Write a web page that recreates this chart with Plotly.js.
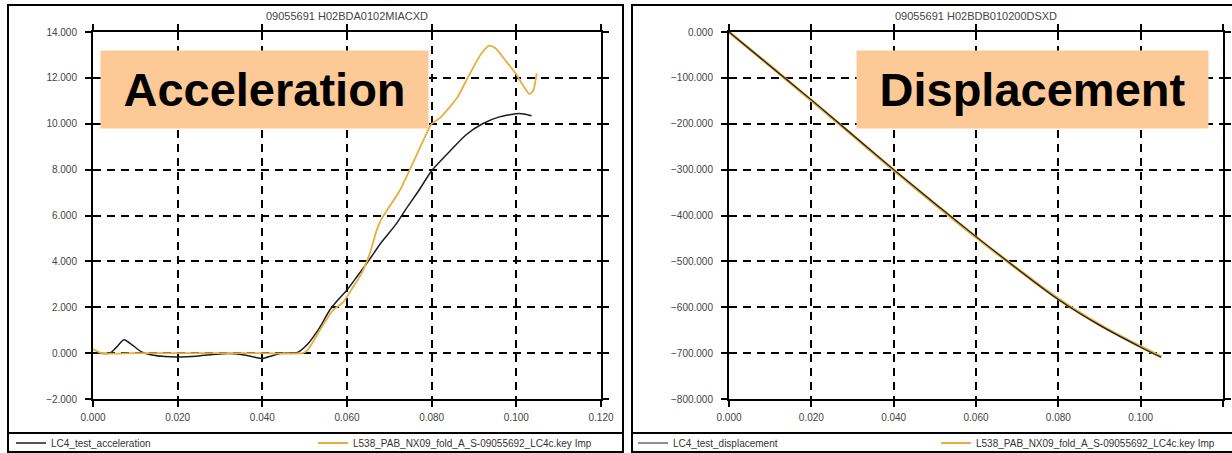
<!DOCTYPE html>
<html>
<head>
<meta charset="utf-8">
<script src="https://cdn.plot.ly/plotly-3.0.1.min.js"></script>
<style>html,body{margin:0;padding:0;background:#fff;}#chart{width:1232px;height:453px;}</style>
</head>
<body>
<div id="chart"></div>
<script>
// ---- data ----
const accTestTime = [0, 0.004, 0.0055, 0.0073, 0.0093, 0.0115, 0.014, 0.017, 0.020, 0.025, 0.029, 0.032, 0.035, 0.038, 0.040, 0.0425, 0.045, 0.0482, 0.0505, 0.0535, 0.056, 0.058, 0.060, 0.062, 0.065, 0.068, 0.0715, 0.074, 0.077, 0.080, 0.0843, 0.088, 0.092, 0.096, 0.1008, 0.1036];
const accTestVal  = [0, 0.0, 0.25, 0.58, 0.35, 0.05, -0.08, -0.15, -0.17, -0.12, -0.05, -0.02, -0.06, -0.17, -0.24, -0.1, 0.0, 0.02, 0.35, 1.1, 1.9, 2.35, 2.75, 3.25, 4.0, 4.8, 5.6, 6.3, 7.1, 7.95, 8.8, 9.5, 10.0, 10.3, 10.45, 10.35];

const accSimTime = [0, 0.002, 0.010, 0.020, 0.030, 0.040, 0.0495, 0.0505, 0.052, 0.0536, 0.0567, 0.059, 0.0614, 0.0635, 0.0654, 0.067, 0.068, 0.0725, 0.078, 0.080, 0.082, 0.086, 0.0885, 0.0915, 0.0935, 0.0950, 0.0977, 0.0998, 0.1031, 0.104, 0.1048];
const accSimVal  = [0.18, 0.0, 0.0, 0.0, 0.0, 0.0, 0.0, 0.1, 0.5, 1.0, 1.87, 2.2, 2.87, 3.5, 4.35, 5.35, 5.8, 7.1, 9.26, 10.0, 10.26, 11.13, 12.0, 13.0, 13.4, 13.3, 12.7, 12.2, 11.3, 11.45, 12.2];

const dispTime = [0, 0.01, 0.02, 0.03, 0.04, 0.05, 0.06, 0.07, 0.08, 0.09, 0.10, 0.105];
const dispTest = [0, -74, -148, -224, -300, -374, -446, -516, -583, -639, -687, -709];
const dispSim  = [0, -74, -149, -225, -301, -375, -447, -516, -582, -638, -686, -708];

const accTicksX = [0, 0.02, 0.04, 0.06, 0.08, 0.10, 0.12];
const accTicksY = [-2, 0, 2, 4, 6, 8, 10, 12, 14];
const dispTicksY = [-800, -700, -600, -500, -400, -300, -200, -100, 0];

const titleAcc = '09055691 H02BDA0102MIACXD';
const titleDisp = '09055691 H02BDB010200DSXD';
const nameAccTest = 'LC4_test_acceleration';
const nameDispTest = 'LC4_test_displacement';
const nameSim = 'L538_PAB_NX09_fold_A_S-09055692_LC4c.key Imp';

// ---- geometry helpers (pixels -> paper) ----
const W = 1232, H = 453;
const px = v => v / W;
const py = v => 1 - v / H;

const BLACK = '#1b1b24';
const GOLD = '#e6ae3c';
const FONT = 'Liberation Sans, Arial, sans-serif';

const traces = [
  {x: accTestTime, y: accTestVal, xaxis: 'x', yaxis: 'y', name: nameAccTest, type: 'scatter', mode: 'lines',
   line: {color: BLACK, width: 1.5, shape: 'spline', smoothing: 0.6}, legend: 'legend'},
  {x: accSimTime, y: accSimVal, xaxis: 'x', yaxis: 'y', name: nameSim, type: 'scatter', mode: 'lines',
   line: {color: GOLD, width: 1.8, shape: 'spline', smoothing: 0.6}, legend: 'legend2'},
  {x: dispTime, y: dispSim, xaxis: 'x2', yaxis: 'y2', name: nameSim, type: 'scatter', mode: 'lines',
   line: {color: GOLD, width: 3, shape: 'spline'}, showlegend: false},
  {x: dispTime, y: dispTest, xaxis: 'x2', yaxis: 'y2', name: nameDispTest, type: 'scatter', mode: 'lines',
   line: {color: BLACK, width: 1.2, shape: 'spline'}, legend: 'legend3'},
  // legend-only entry so the key sample keeps a thin line
  {x: [null], y: [null], xaxis: 'x2', yaxis: 'y2', name: nameSim, type: 'scatter', mode: 'lines',
   line: {color: GOLD, width: 1.8}, legend: 'legend4'}
];

function axisBase() {
  return {
    showline: true, linewidth: 2, linecolor: '#000', mirror: 'allticks',
    ticks: 'outside', ticklen: 6, tickwidth: 2, tickcolor: '#000',
    showgrid: true, gridcolor: '#000', gridwidth: 2, griddash: '8px,6px',
    zeroline: false, fixedrange: true,
    tickfont: {family: FONT, size: 10, color: '#444'}
  };
}

const yDom = [1 - 399 / H, 1 - 32 / H];
const legFont = {family: FONT, size: 10, color: '#333'};

const layout = {
  width: W, height: H,
  margin: {l: 0, r: 0, t: 0, b: 0, autoexpand: false},
  paper_bgcolor: '#fff', plot_bgcolor: '#fff',
  font: {family: FONT},
  xaxis: Object.assign(axisBase(), {domain: [px(93), px(601)], range: [0, 0.12], tickvals: accTicksX, tickformat: '.3f', anchor: 'y', ticklabelstandoff: 2}),
  yaxis: Object.assign(axisBase(), {domain: yDom, range: [-2, 14], tickvals: accTicksY, tickformat: ',.3f', anchor: 'x', ticklabelstandoff: 6}),
  xaxis2: Object.assign(axisBase(), {domain: [px(729), px(1223)], range: [0, 0.12], tickvals: accTicksX, tickformat: '.3f', anchor: 'y2', ticklabelstandoff: 2}),
  yaxis2: Object.assign(axisBase(), {domain: yDom, range: [-800, 0], tickvals: dispTicksY, tickformat: '.3f', anchor: 'x2', ticklabelstandoff: 6}),
  showlegend: true,
  legend:  {x: px(11),  y: py(443), xanchor: 'left', yanchor: 'middle', bgcolor: 'rgba(0,0,0,0)', font: legFont},
  legend2: {x: px(313), y: py(443), xanchor: 'left', yanchor: 'middle', bgcolor: 'rgba(0,0,0,0)', font: legFont},
  legend3: {x: px(633), y: py(443), xanchor: 'left', yanchor: 'middle', bgcolor: 'rgba(0,0,0,0)', font: legFont},
  legend4: {x: px(936), y: py(443), xanchor: 'left', yanchor: 'middle', bgcolor: 'rgba(0,0,0,0)', font: legFont},
  shapes: [
    {type: 'rect', xref: 'paper', yref: 'paper', x0: px(8), x1: px(623), y0: py(452), y1: py(5), line: {color: '#000', width: 2}},
    {type: 'line', xref: 'paper', yref: 'paper', x0: px(8), x1: px(623), y0: py(433), y1: py(433), line: {color: '#000', width: 2}},
    {type: 'rect', xref: 'paper', yref: 'paper', x0: px(632), x1: px(1240), y0: py(452), y1: py(5), line: {color: '#000', width: 2}},
    {type: 'line', xref: 'paper', yref: 'paper', x0: px(632), x1: px(1240), y0: py(433), y1: py(433), line: {color: '#000', width: 2}}
  ],
  annotations: [
    {text: titleAcc, xref: 'paper', yref: 'paper', x: px(347), y: py(16), xanchor: 'center', yanchor: 'middle', showarrow: false,
     font: {family: FONT, size: 11, color: '#444'}},
    {text: titleDisp, xref: 'paper', yref: 'paper', x: px(976), y: py(16), xanchor: 'center', yanchor: 'middle', showarrow: false,
     font: {family: FONT, size: 11, color: '#444'}},
    {text: '<b>Acceleration</b>', xref: 'paper', yref: 'paper', x: px(100), y: py(50), xanchor: 'left', yanchor: 'top',
     width: 327, height: 77, bgcolor: '#fdc996', borderpad: 0, showarrow: false, align: 'center', valign: 'middle',
     font: {family: FONT, size: 47, color: '#000'}},
    {text: '<b>Displacement</b>', xref: 'paper', yref: 'paper', x: px(856), y: py(50), xanchor: 'left', yanchor: 'top',
     width: 351, height: 77, bgcolor: '#fdc996', borderpad: 0, showarrow: false, align: 'center', valign: 'middle',
     font: {family: FONT, size: 47, color: '#000'}}
  ]
};

Plotly.newPlot('chart', traces, layout, {displayModeBar: false, staticPlot: true});
</script>
</body>
</html>
